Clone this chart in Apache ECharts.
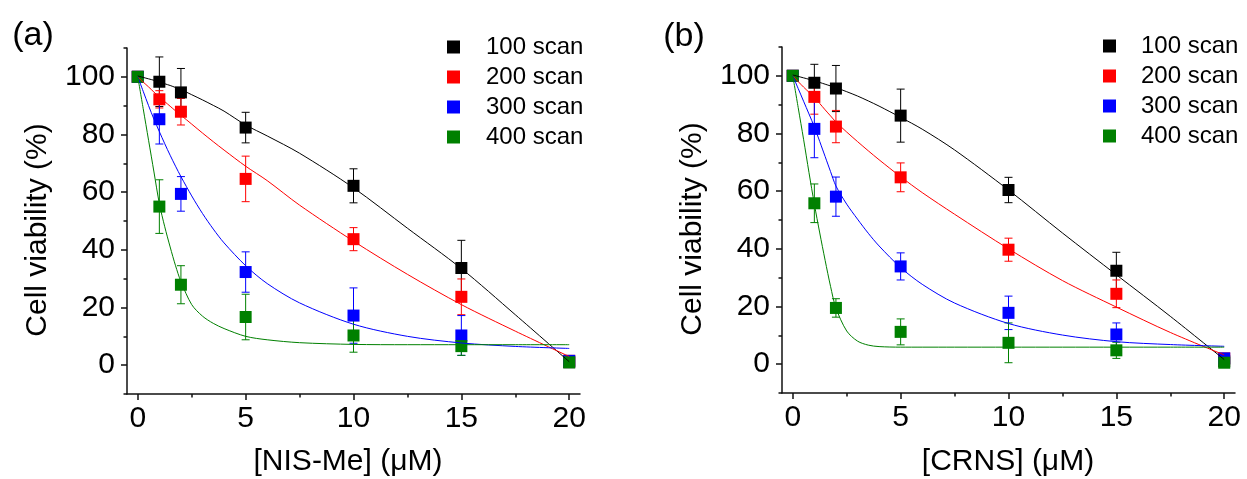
<!DOCTYPE html>
<html>
<head>
<meta charset="utf-8">
<script src="https://cdn.jsdelivr.net/npm/echarts@6/dist/echarts.min.js"></script>
<style>
  html, body { margin: 0; padding: 0; background: #fff; }
  #chart { width: 1247px; height: 479px; }
</style>
</head>
<body>
<div id="chart"></div>
<script>
// concentrations (uM)
const doses = [0, 1, 2, 5, 10, 15, 20];
const scanNames = ["100 scan", "200 scan", "300 scan", "400 scan"];

// panel (a) NIS-Me: mean viability and error (%)
const nis100 = [100, 98.3, 94.6, 82.4, 62.2, 33.7, 1.0];
const nis100Err = [0, 8.6, 8.3, 5.3, 5.9, 9.6, 0];
const nis200 = [100, 92.2, 87.9, 64.6, 43.7, 23.7, 1.5];
const nis200Err = [0, 3, 4.6, 7.9, 4, 6.2, 0];
const nis300 = [100, 85.3, 59.4, 32.3, 17.2, 10.3, 1.5];
const nis300Err = [0, 8.6, 6, 7, 9.6, 6.9, 0];
const nis400 = [100, 55.0, 27.9, 16.7, 10.3, 6.6, 1.0];
const nis400Err = [0, 9.3, 6.6, 7.9, 5.8, 3.2, 0];

// panel (b) CRNS
const crns100 = [100, 97.6, 95.6, 86.2, 60.4, 32.4, 1.0];
const crns100Err = [0, 6.4, 8, 9.2, 4.4, 6.4, 0];
const crns200 = [100, 92.7, 82.4, 64.8, 39.7, 24.4, 2.0];
const crns200Err = [0, 6, 5.6, 5, 4, 4.8, 0];
const crns300 = [100, 81.6, 58.1, 33.9, 17.8, 10.3, 2.0];
const crns300Err = [0, 10, 6.8, 4.7, 5.8, 4, 0];
const crns400 = [100, 55.8, 19.5, 11.2, 7.4, 4.8, 0.5];
const crns400Err = [0, 6.7, 3.2, 4.5, 6.9, 2.8, 0];

// fitted curves
const fitX = [0, 0.25, 0.5, 0.75, 1, 1.25, 1.5, 1.75, 2, 2.5, 3, 3.5, 4, 5, 6, 7.5, 10, 12.5, 15, 17.5, 20];
const nis100Fit = [100.3, 99.8, 99.3, 98.8, 98.3, 97.6, 97.0, 96.3, 95.6, 93.8, 92.0, 90.1, 88.1, 83.3, 79.5, 73.5, 61.5, 47.5, 33.5, 17.5, 1.2];
const nis200Fit = [100, 98.2, 96.5, 94.7, 93.0, 91.4, 89.8, 88.2, 86.7, 83.6, 80.5, 77.5, 74.6, 69.0, 64.0, 55.5, 43.0, 31.5, 21.0, 11.8, 3.0];
const nis300Fit = [100, 95, 90, 85.3, 81, 76.8, 72.8, 69, 65.4, 58.7, 52.6, 47.2, 42.4, 34.5, 28.3, 21.6, 14.2, 10, 7.7, 6.5, 5.8];
const nis400Fit = [100, 89, 78, 67, 56, 48, 41, 34.5, 29, 21, 17, 14.5, 12.7, 10, 8.8, 7.8, 7.2, 7.1, 7.1, 7.1, 7.1];
const crns100Fit = [100.3, 99.8, 99.3, 98.8, 98.2, 97.7, 97.1, 96.5, 95.9, 94.5, 93.0, 91.3, 89.5, 85.6, 81.5, 74.3, 60.4, 45.5, 31.0, 16.6, 1.6];
const crns200Fit = [100, 98, 96.1, 94.3, 92.5, 90.4, 88.2, 86.1, 84, 80.5, 77.2, 74, 70.9, 65, 59.5, 52, 40, 29, 19.8, 11, 3.2];
const crns300Fit = [100, 95.6, 91.2, 86.8, 82.3, 77.2, 72, 66.8, 61.8, 55.5, 50.3, 45.4, 41, 33.5, 27.7, 21.2, 14.1, 10.1, 7.8, 6.8, 6.2];
const crns400Fit = [100, 89, 78, 66.5, 55.5, 45.5, 36, 27, 19.5, 11.5, 8, 6.6, 6.1, 5.9, 5.9, 5.9, 5.9, 5.9, 5.9, 5.9, 5.9];

// tick labels
const xMajor = [0, 5, 10, 15, 20];
const xMinor = [2.5, 7.5, 12.5, 17.5];
const yMajor = [0, 20, 40, 60, 80, 100];
const yMinor = [-10, 10, 30, 50, 70, 90, 110];

const FONT = "Liberation Sans, Arial, sans-serif";
const colors = ["#000000", "#ff0000", "#0000ff", "#008000"];
const axisColor = "#111";

const panels = [
  {
    means: [nis100, nis200, nis300, nis400],
    errs: [nis100Err, nis200Err, nis300Err, nis400Err],
    fits: [nis100Fit, nis200Fit, nis300Fit, nis400Fit],
  },
  {
    means: [crns100, crns200, crns300, crns400],
    errs: [crns100Err, crns200Err, crns300Err, crns400Err],
    fits: [crns100Fit, crns200Fit, crns300Fit, crns400Fit],
  },
];

function renderErr(params, api) {
  const x = api.value(0);
  const top = api.coord([x, api.value(2)]);
  const bot = api.coord([x, api.value(1)]);
  const w = 4;
  const style = { stroke: api.visual("color"), lineWidth: 1 };
  return {
    type: "group",
    children: [
      { type: "line", shape: { x1: top[0], y1: top[1], x2: bot[0], y2: bot[1] }, style: style },
      { type: "line", shape: { x1: top[0] - w, y1: top[1], x2: top[0] + w, y2: top[1] }, style: style },
      { type: "line", shape: { x1: bot[0] - w, y1: bot[1], x2: bot[0] + w, y2: bot[1] }, style: style },
    ],
  };
}

const grid = [
  { left: 127, top: 48, width: 453, height: 346 },
  { left: 782, top: 47, width: 453, height: 346 },
];
const xAxis = [];
const yAxis = [];
const series = [];

panels.forEach((p, gi) => {
  const tickLine = { color: axisColor, width: 1.5 };
  xAxis.push({
    type: "value", gridIndex: gi, min: -0.5, max: 20.5, position: "bottom",
    axisLine: { show: true, onZero: false, lineStyle: tickLine },
    axisTick: { show: true, length: 6, customValues: xMajor, lineStyle: tickLine },
    axisLabel: { customValues: xMajor, margin: 10, fontSize: 30, fontFamily: FONT, color: "#000" },
    splitLine: { show: false },
  });
  xAxis.push({
    type: "value", gridIndex: gi, min: -0.5, max: 20.5, position: "bottom", offset: 0,
    axisLine: { show: false, onZero: false },
    axisTick: { show: true, length: 3.5, customValues: xMinor, lineStyle: tickLine },
    axisLabel: { show: false },
    splitLine: { show: false },
  });
  yAxis.push({
    type: "value", gridIndex: gi, min: -10, max: 110, position: "left",
    axisLine: { show: true, onZero: false, lineStyle: tickLine },
    axisTick: { show: true, length: 6, customValues: yMajor, lineStyle: tickLine },
    axisLabel: { customValues: yMajor, margin: 12, fontSize: 30, fontFamily: FONT, color: "#000" },
    splitLine: { show: false },
  });
  yAxis.push({
    type: "value", gridIndex: gi, min: -10, max: 110, position: "left", offset: 0,
    axisLine: { show: false, onZero: false },
    axisTick: { show: true, length: 3.5, customValues: yMinor, lineStyle: tickLine },
    axisLabel: { show: false },
    splitLine: { show: false },
  });

  for (let k = 0; k < 4; k++) {
    const mean = p.means[k];
    const err = p.errs[k];
    const errData = [];
    doses.forEach((d, i) => {
      if (err[i] > 0) errData.push([d, mean[i] - err[i], mean[i] + err[i]]);
    });
    series.push({
      type: "custom", name: scanNames[k] + " err", xAxisIndex: gi * 2, yAxisIndex: gi * 2,
      renderItem: renderErr, data: errData, encode: { x: 0, y: [1, 2] },
      itemStyle: { color: colors[k], opacity: 0.85 }, z: 2, silent: true,
    });
    series.push({
      type: "scatter", name: scanNames[k], xAxisIndex: gi * 2, yAxisIndex: gi * 2,
      data: doses.map((d, i) => [d, mean[i]]),
      symbol: "rect", symbolSize: 12,
      itemStyle: { color: colors[k], opacity: 1 }, z: 3,
    });
  }
  for (let k = 0; k < 4; k++) {
    series.push({
      type: "line", name: scanNames[k] + " fit", xAxisIndex: gi * 2, yAxisIndex: gi * 2,
      data: fitX.map((x, i) => [x, p.fits[k][i]]),
      smooth: 0.3, symbol: "none",
      lineStyle: { color: colors[k], width: 1 }, z: 4, silent: true,
    });
  }
});

function legendAt(left, top, gap) {
  return {
    orient: "vertical", left: left, top: top, padding: 0,
    itemWidth: 13, itemHeight: 13, itemGap: 6, icon: "rect",
    data: scanNames,
    textStyle: { fontSize: 24, fontFamily: FONT, color: "#000", lineHeight: 24, padding: [0, 0, 0, gap] },
  };
}

const txt = { fontFamily: FONT, fill: "#000" };
const option = {
  animation: false,
  backgroundColor: "#fff",
  grid: grid,
  xAxis: xAxis,
  yAxis: yAxis,
  legend: [legendAt(447, 35, 21), legendAt(1103, 34, 20)],
  series: series,
  graphic: [
    { type: "text", left: null, x: 33, y: 36, style: Object.assign({ text: "(a)", fontSize: 34, textAlign: "center", textVerticalAlign: "middle" }, txt) },
    { type: "text", x: 684, y: 37, style: Object.assign({ text: "(b)", fontSize: 34, textAlign: "center", textVerticalAlign: "middle" }, txt) },
    { type: "text", x: 348, y: 462, style: Object.assign({ text: "[NIS-Me] (\u03bcM)", fontSize: 30, textAlign: "center", textVerticalAlign: "middle" }, txt) },
    { type: "text", x: 1008, y: 462, style: Object.assign({ text: "[CRNS] (\u03bcM)", fontSize: 30, textAlign: "center", textVerticalAlign: "middle" }, txt) },
    { type: "text", x: 38, y: 230, rotation: Math.PI / 2, style: Object.assign({ text: "Cell viability (%)", fontSize: 30, textAlign: "center", textVerticalAlign: "middle" }, txt) },
    { type: "text", x: 693, y: 229, rotation: Math.PI / 2, style: Object.assign({ text: "Cell viability (%)", fontSize: 30, textAlign: "center", textVerticalAlign: "middle" }, txt) },
  ],
};

const myChart = echarts.init(document.getElementById("chart"));
myChart.setOption(option);
</script>
</body>
</html>
